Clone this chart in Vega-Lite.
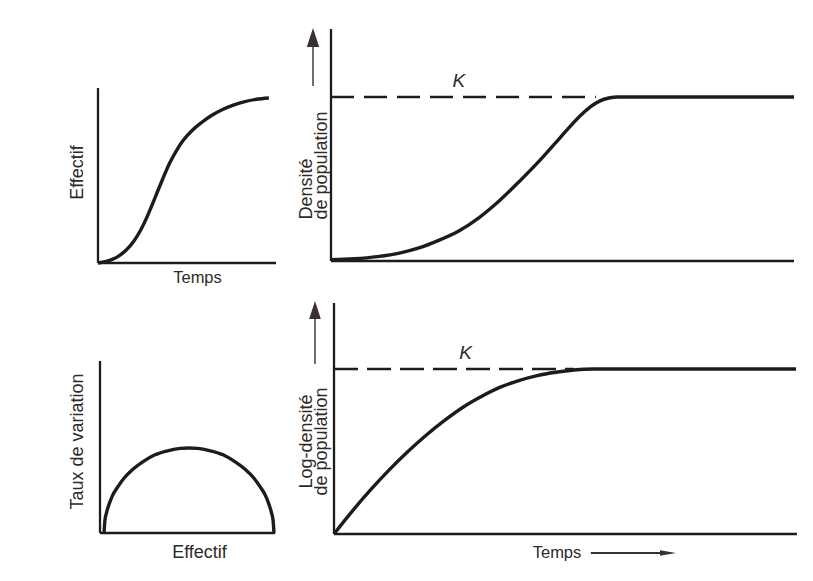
{
  "$schema": "https://vega.github.io/schema/vega-lite/v6.json",
  "background": "white",
  "padding": {"left": 68, "top": 27, "right": 10, "bottom": 10},
  "config": {
    "view": {"stroke": null},
    "axis": {"domain": false, "ticks": false, "labels": false, "grid": false, "titleFont": "Liberation Sans", "titleFontSize": 18, "titleFontWeight": "normal", "titleColor": "#2b2b2b", "titleLineHeight": 15},
    "line": {"color": "#1c1c1c", "strokeWidth": 3.4, "interpolate": "monotone"},
    "rule": {"color": "#1c1c1c", "strokeWidth": 2.3},
    "text": {"font": "Liberation Sans", "color": "#2b2b2b"}
  },
  "datasets": {
    "p1_axes": [{"t": 0, "v": 0, "t2": 100, "v2": 0}, {"t": 0, "v": 0, "t2": 0, "v2": 1.06}],
    "p1_curve": [
      {"t": 0, "v": 0}, {"t": 4, "v": 0.008}, {"t": 8, "v": 0.022}, {"t": 12, "v": 0.045}, {"t": 16, "v": 0.08},
      {"t": 20, "v": 0.13}, {"t": 24, "v": 0.2}, {"t": 28, "v": 0.29}, {"t": 32, "v": 0.395}, {"t": 36, "v": 0.5},
      {"t": 40, "v": 0.6}, {"t": 44, "v": 0.68}, {"t": 48, "v": 0.745}, {"t": 53, "v": 0.805}, {"t": 58, "v": 0.85},
      {"t": 64, "v": 0.895}, {"t": 70, "v": 0.93}, {"t": 76, "v": 0.957}, {"t": 82, "v": 0.977}, {"t": 89, "v": 0.992},
      {"t": 96, "v": 1.0}
    ],
    "p2_axes": [{"t": 0, "v": 0, "t2": 100, "v2": 0}, {"t": 0, "v": 0, "t2": 0, "v2": 1.4146}],
    "p2_k": [{"t": 0, "t2": 57.2, "v": 1, "tl": 27.6, "vl": 1.098, "label": "K"}],
    "p2_curve": [
      {"t": 0, "v": 0.008}, {"t": 5, "v": 0.014}, {"t": 10, "v": 0.027}, {"t": 15, "v": 0.05}, {"t": 19, "v": 0.08},
      {"t": 23, "v": 0.123}, {"t": 27.6, "v": 0.183}, {"t": 32, "v": 0.265}, {"t": 36.3, "v": 0.366}, {"t": 40.5, "v": 0.48},
      {"t": 45, "v": 0.61}, {"t": 48.5, "v": 0.72}, {"t": 51.4, "v": 0.813}, {"t": 54, "v": 0.89}, {"t": 56, "v": 0.94},
      {"t": 58, "v": 0.975}, {"t": 60, "v": 0.994}, {"t": 62, "v": 1.0}, {"t": 80, "v": 1.0}, {"t": 100, "v": 1.0}
    ],
    "p2_arrow": [{"t": 0, "v": 1.067, "v2": 1.305, "vh": 1.363}],
    "p3_axes": [{"t": -2.35, "v": 0, "t2": 100.6, "v2": 0}, {"t": -2.35, "v": 0, "t2": -2.35, "v2": 2.024}],
    "p3_curve": [
      {"t": 0, "v": 0}, {"t": 0.5, "v": 0.14}, {"t": 1.5, "v": 0.24}, {"t": 3, "v": 0.34}, {"t": 5, "v": 0.44},
      {"t": 8, "v": 0.54}, {"t": 12, "v": 0.65}, {"t": 17, "v": 0.75}, {"t": 23, "v": 0.84}, {"t": 30, "v": 0.92},
      {"t": 38, "v": 0.97}, {"t": 45, "v": 0.995}, {"t": 50, "v": 1.0}, {"t": 55, "v": 0.995}, {"t": 62, "v": 0.97},
      {"t": 70, "v": 0.92}, {"t": 77, "v": 0.84}, {"t": 83, "v": 0.75}, {"t": 88, "v": 0.65}, {"t": 92, "v": 0.54},
      {"t": 95, "v": 0.44}, {"t": 97, "v": 0.34}, {"t": 98.5, "v": 0.24}, {"t": 99.5, "v": 0.14}, {"t": 100, "v": 0}
    ],
    "p4_axes": [{"t": 0, "v": 0, "t2": 100.2, "v2": 0}, {"t": 0, "v": 0, "t2": 0, "v2": 1.4}],
    "p4_k": [{"t": 0, "t2": 52, "v": 1, "tl": 28.5, "vl": 1.1, "label": "K"}],
    "p4_curve": [
      {"t": 0, "v": 0}, {"t": 4, "v": 0.14}, {"t": 8, "v": 0.27}, {"t": 12, "v": 0.39}, {"t": 16, "v": 0.5},
      {"t": 20, "v": 0.6}, {"t": 24, "v": 0.69}, {"t": 28, "v": 0.77}, {"t": 32, "v": 0.835}, {"t": 36, "v": 0.89},
      {"t": 40, "v": 0.93}, {"t": 44, "v": 0.96}, {"t": 48, "v": 0.98}, {"t": 52, "v": 0.994}, {"t": 56, "v": 1.0},
      {"t": 80, "v": 1.0}, {"t": 100, "v": 1.0}
    ],
    "p4_arrow": [{"t": 0, "v": 1.03, "v2": 1.303, "vh": 1.358}],
    "p4_tarrow": [{"t": 55.6, "t2": 71.4, "th": 72.3, "v": 0}]
  },
  "bounds": "flush",
  "columns": 2,
  "spacing": {"row": 40, "column": 55},
  "concat": [
    {
      "width": 178,
      "height": 234,
      "layer": [
        {
          "data": {"name": "p1_axes"},
          "mark": {"type": "rule"},
          "encoding": {
            "x": {"field": "t", "type": "quantitative", "scale": {"domain": [0, 100], "nice": false, "zero": false}, "axis": {"title": "Temps", "titleFontSize": 16.5, "titleX": 99, "titlePadding": 6}},
            "x2": {"field": "t2"},
            "y": {"field": "v", "type": "quantitative", "scale": {"domain": [0, 1.418], "nice": false, "zero": false}, "axis": {"title": "Effectif", "titleY": 143, "titlePadding": 12}},
            "y2": {"field": "v2"}
          }
        },
        {
          "data": {"name": "p1_curve"},
          "mark": {"type": "line"},
          "encoding": {
            "x": {"field": "t", "type": "quantitative"},
            "y": {"field": "v", "type": "quantitative"}
          }
        }
      ]
    },
    {
      "width": 463,
      "height": 232,
      "layer": [
        {
          "data": {"name": "p2_axes"},
          "mark": {"type": "rule"},
          "encoding": {
            "x": {"field": "t", "type": "quantitative", "scale": {"domain": [0, 100], "nice": false, "zero": false}, "axis": {"title": null}},
            "x2": {"field": "t2"},
            "y": {"field": "v", "type": "quantitative", "scale": {"domain": [0, 1.4146], "nice": false, "zero": false}, "axis": {"title": ["Densité", "de population"], "titleAlign": "left", "titleY": 190, "titlePadding": 1}},
            "y2": {"field": "v2"}
          }
        },
        {
          "data": {"name": "p2_k"},
          "mark": {"type": "rule", "strokeDash": [23, 10], "strokeWidth": 2.5},
          "encoding": {
            "x": {"field": "t", "type": "quantitative"},
            "x2": {"field": "t2"},
            "y": {"field": "v", "type": "quantitative"}
          }
        },
        {
          "data": {"name": "p2_curve"},
          "mark": {"type": "line"},
          "encoding": {
            "x": {"field": "t", "type": "quantitative"},
            "y": {"field": "v", "type": "quantitative"}
          }
        },
        {
          "data": {"name": "p2_k"},
          "mark": {"type": "text", "fontSize": 19, "fontStyle": "italic", "align": "center", "baseline": "middle"},
          "encoding": {
            "x": {"field": "tl", "type": "quantitative"},
            "y": {"field": "vl", "type": "quantitative"},
            "text": {"field": "label"}
          }
        },
        {
          "data": {"name": "p2_arrow"},
          "mark": {"type": "rule", "xOffset": -18, "strokeWidth": 1.6, "color": "#4a4a4a"},
          "encoding": {
            "x": {"field": "t", "type": "quantitative"},
            "y": {"field": "v", "type": "quantitative"},
            "y2": {"field": "v2"}
          }
        },
        {
          "data": {"name": "p2_arrow"},
          "mark": {"type": "point", "shape": "M0,-1L0.65,1L-0.65,1Z", "size": 361, "filled": true, "opacity": 1, "color": "#3a2f33", "xOffset": -18},
          "encoding": {
            "x": {"field": "t", "type": "quantitative"},
            "y": {"field": "vh", "type": "quantitative"}
          }
        }
      ]
    },
    {
      "width": 178,
      "height": 230,
      "layer": [
        {
          "data": {"name": "p3_axes"},
          "mark": {"type": "rule"},
          "encoding": {
            "x": {"field": "t", "type": "quantitative", "scale": {"domain": [-3.53, 101.18], "nice": false, "zero": false}, "axis": {"title": "Effectif", "titleX": 101, "titlePadding": 10}},
            "x2": {"field": "t2"},
            "y": {"field": "v", "type": "quantitative", "scale": {"domain": [0, 2.706], "nice": false, "zero": false}, "axis": {"title": "Taux de variation", "titleY": 138, "titlePadding": 12}},
            "y2": {"field": "v2"}
          }
        },
        {
          "data": {"name": "p3_curve"},
          "mark": {"type": "line"},
          "encoding": {
            "x": {"field": "t", "type": "quantitative"},
            "y": {"field": "v", "type": "quantitative"}
          }
        }
      ]
    },
    {
      "width": 465,
      "height": 231,
      "layer": [
        {
          "data": {"name": "p4_axes"},
          "mark": {"type": "rule"},
          "encoding": {
            "x": {"field": "t", "type": "quantitative", "scale": {"domain": [-0.65, 100], "nice": false, "zero": false}, "axis": {"title": "Temps", "titleFontSize": 16.5, "titleX": 225.5, "titlePadding": 10}},
            "x2": {"field": "t2"},
            "y": {"field": "v", "type": "quantitative", "scale": {"domain": [0, 1.4], "nice": false, "zero": false}, "axis": {"title": ["Log-densité", "de population"], "titleY": 138, "titlePadding": 1}},
            "y2": {"field": "v2"}
          }
        },
        {
          "data": {"name": "p4_k"},
          "mark": {"type": "rule", "strokeDash": [24, 9], "strokeWidth": 2.5},
          "encoding": {
            "x": {"field": "t", "type": "quantitative"},
            "x2": {"field": "t2"},
            "y": {"field": "v", "type": "quantitative"}
          }
        },
        {
          "data": {"name": "p4_curve"},
          "mark": {"type": "line"},
          "encoding": {
            "x": {"field": "t", "type": "quantitative"},
            "y": {"field": "v", "type": "quantitative"}
          }
        },
        {
          "data": {"name": "p4_k"},
          "mark": {"type": "text", "fontSize": 19, "fontStyle": "italic", "align": "center", "baseline": "middle"},
          "encoding": {
            "x": {"field": "tl", "type": "quantitative"},
            "y": {"field": "vl", "type": "quantitative"},
            "text": {"field": "label"}
          }
        },
        {
          "data": {"name": "p4_arrow"},
          "mark": {"type": "rule", "xOffset": -19, "strokeWidth": 1.6, "color": "#4a4a4a"},
          "encoding": {
            "x": {"field": "t", "type": "quantitative"},
            "y": {"field": "v", "type": "quantitative"},
            "y2": {"field": "v2"}
          }
        },
        {
          "data": {"name": "p4_arrow"},
          "mark": {"type": "point", "shape": "M0,-1L0.65,1L-0.65,1Z", "size": 324, "filled": true, "opacity": 1, "color": "#3a2f33", "xOffset": -19},
          "encoding": {
            "x": {"field": "t", "type": "quantitative"},
            "y": {"field": "vh", "type": "quantitative"}
          }
        },
        {
          "data": {"name": "p4_tarrow"},
          "mark": {"type": "rule", "yOffset": 19, "strokeWidth": 2, "color": "#333333"},
          "encoding": {
            "x": {"field": "t", "type": "quantitative"},
            "x2": {"field": "t2"},
            "y": {"field": "v", "type": "quantitative"}
          }
        },
        {
          "data": {"name": "p4_tarrow"},
          "mark": {"type": "point", "shape": "M1,0L-1,-0.35L-1,0.35Z", "size": 256, "filled": true, "opacity": 1, "color": "#3a2f33", "yOffset": 19},
          "encoding": {
            "x": {"field": "th", "type": "quantitative"},
            "y": {"field": "v", "type": "quantitative"}
          }
        }
      ]
    }
  ]
}
